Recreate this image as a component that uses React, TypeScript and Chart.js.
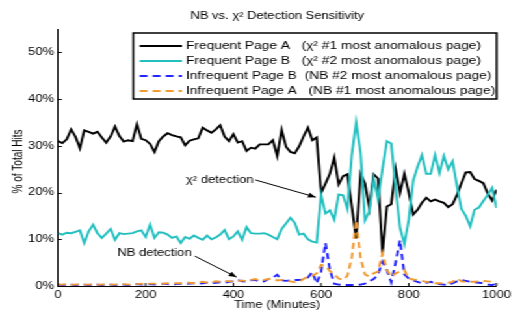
import React, { useEffect, useRef } from 'react';
import { Chart, registerables } from 'chart.js';

Chart.register(...registerables);

// ---------------- data ----------------
const times = [
  0, 10, 20, 30, 40, 50, 60, 70, 80, 90,
  100, 110, 120, 130, 140, 150, 160, 170, 180, 190,
  200, 210, 220, 230, 240, 250, 260, 270, 280, 290,
  300, 310, 320, 330, 340, 350, 360, 370, 380, 390,
  400, 410, 420, 430, 440, 450, 460, 470, 480, 490,
  500, 510, 520, 530, 540, 550, 560, 570, 580, 590,
  600, 610, 620, 630, 640, 650, 660, 670, 680, 690,
  700, 710, 720, 730, 740, 750, 760, 770, 780, 790,
  800, 810, 820, 830, 840, 850, 860, 870, 880, 890,
  900, 910, 920, 930, 940, 950, 960, 970, 980, 990,
  1000,
];

const frequentPageA = [
  31.0, 30.6, 31.4, 33.5, 31.9, 29.5, 33.3, 33.0, 32.6, 33.0,
  31.8, 30.7, 32.0, 34.1, 32.1, 30.9, 31.2, 31.0, 34.6, 31.5,
  31.2, 30.4, 28.7, 31.0, 32.0, 32.7, 32.3, 32.0, 31.8, 30.1,
  31.1, 31.4, 31.6, 33.9, 33.3, 32.8, 33.5, 34.4, 32.0, 31.0,
  32.5, 30.7, 31.0, 28.9, 29.6, 29.4, 30.3, 30.3, 30.3, 31.2,
  27.8, 33.4, 29.8, 28.7, 28.4, 29.9, 32.0, 33.9, 31.2, 31.8,
  19.9, 21.9, 24.0, 27.5, 21.7, 23.5, 23.9, 17.1, 10.2, 24.0,
  22.0, 16.7, 23.9, 23.0, 7.0, 17.0, 17.5, 25.0, 19.9, 24.0,
  20.0, 15.3, 16.3, 17.8, 18.9, 18.1, 18.5, 18.1, 17.8, 16.9,
  17.5, 19.5, 22.0, 24.3, 24.4, 22.9, 22.5, 22.0, 19.8, 18.3,
  20.6,
];

const frequentPageB = [
  11.3, 11.0, 11.4, 11.3, 11.6, 11.9, 9.2, 11.7, 13.1, 11.3,
  10.3, 11.2, 12.2, 9.9, 11.3, 11.1, 11.2, 11.3, 11.7, 11.9,
  10.5, 13.1, 10.3, 11.5, 11.4, 11.0, 10.3, 10.6, 9.2, 10.5,
  10.1, 10.8, 10.3, 9.9, 10.8, 10.0, 10.4, 11.0, 12.0, 10.0,
  10.6, 11.7, 9.9, 12.6, 11.3, 11.2, 11.2, 11.3, 11.0, 10.5,
  10.0, 12.2, 13.4, 14.6, 13.5, 11.0, 11.2, 10.0, 9.5, 9.3,
  19.6, 15.5, 16.2, 14.2, 19.6, 19.4, 16.5, 28.0, 35.0, 28.5,
  14.0, 16.0, 23.0, 18.5, 25.0, 31.0, 30.5, 21.0, 12.5, 9.0,
  14.2, 22.5, 25.5, 28.0, 24.0, 24.0, 28.0, 24.2, 27.8, 25.0,
  26.7, 21.4, 16.5, 15.0, 12.8, 16.3, 16.8, 18.2, 19.5, 21.0,
  16.7,
];

const infrequentPageB = [
  0.3, 0.2, 0.3, 0.3, 0.2, 0.3, 0.3, 0.2, 0.3, 0.3,
  0.2, 0.3, 0.3, 0.2, 0.3, 0.3, 0.2, 0.3, 0.4, 0.3,
  0.3, 0.4, 0.3, 0.4, 0.5, 0.4, 0.3, 0.4, 0.5, 0.4,
  0.5, 0.6, 0.5, 0.6, 0.7, 0.6, 0.7, 0.8, 0.7, 0.9,
  1.0, 1.3, 1.0, 0.9, 1.2, 1.3, 0.9, 1.0, 1.5, 1.8,
  2.4, 1.2, 1.1, 1.2, 1.3, 1.3, 1.4, 1.8, 3.0, 0.6,
  3.0, 9.2, 3.5, 0.5, 0.3, 0.2, 0.2, 0.2, 0.2, 0.3,
  0.5, 1.0, 1.5, 2.5, 5.2, 3.4, 0.8, 5.0, 9.8, 2.5,
  1.6, 1.2, 0.9, 0.6, 0.7, 0.9, 0.6, 0.4, 0.3, 0.2,
  0.6, 1.0, 1.3, 1.1, 0.9, 0.8, 0.7, 0.6, 0.3, 0.2,
  0.5,
];

const infrequentPageA = [
  0.3, 0.3, 0.4, 0.3, 0.3, 0.4, 0.3, 0.3, 0.4, 0.3,
  0.3, 0.4, 0.3, 0.3, 0.4, 0.4, 0.3, 0.4, 0.4, 0.5,
  0.4, 0.5, 0.5, 0.4, 0.5, 0.6, 0.5, 0.6, 0.6, 0.7,
  0.7, 0.6, 0.8, 0.9, 0.7, 0.8, 1.0, 0.9, 1.1, 1.0,
  1.0, 1.0, 1.2, 1.0, 1.3, 1.5, 1.2, 1.3, 1.5, 1.6,
  1.2, 1.3, 1.1, 1.0, 0.8, 0.9, 1.5, 2.0, 2.2, 2.7,
  4.5, 4.3, 3.2, 2.5, 1.6, 1.3, 2.2, 6.0, 14.0, 6.0,
  2.5, 2.0, 2.7, 3.1, 7.0, 3.5, 2.0, 2.7, 3.1, 3.4,
  1.6, 1.4, 1.3, 1.1, 0.9, 0.8, 0.6, 0.6, 0.6, 0.7,
  0.9, 1.6, 1.0, 0.9, 0.9, 0.9, 1.0, 1.1, 1.0, 0.9,
  0.9,
];

const seriesNames = [
  'Frequent Page A   (\u03c7\u00b2 #1 most anomalous page)',
  'Frequent Page B   (\u03c7\u00b2 #2 most anomalous page)',
  'Infrequent Page B  (NB #2 most anomalous page)',
  'Infrequent Page A   (NB #1 most anomalous page)',
];

const chartTitle = 'NB vs. \u03c7\u00b2 Detection Sensitivity';
const xTitle = 'Time (Minutes)';
const yTitle = '% of Total Hits';

const xTicks = [0, 200, 400, 600, 800, 1000];
const yTicks = [0, 10, 20, 30, 40, 50];

// annotation anchors in data units: [minutes, percent]
const annotationLabels = ['\u03c7\u00b2 detection', 'NB detection'];
const annotationTextAt = [[446, 22.7], [305, 7.1]];
const annotationFrom = [[450, 22.7], [312, 6.4]];
const annotationTo = [[588, 19.0], [407, 1.9]];

// ---------------- style ----------------
const STRETCH = 1.3;
const CW = 396;
const CH = 311;
const FONT = '"Liberation Sans", Arial, Helvetica, sans-serif';
const COLORS = ['#000000', '#22bfbf', '#2424ff', '#f09a32'];
const DASHES = [[], [], [6, 4], [6, 4]];

const decorPlugin = {
  id: 'decor',
  afterDraw(chart: any) {
    const { ctx, chartArea, scales } = chart;
    const xs = scales.x;
    const ys = scales.y;
    ctx.save();

    // inward tick marks
    ctx.strokeStyle = '#000';
    ctx.lineWidth = 1;
    yTicks.forEach((v) => {
      const py = Math.round(ys.getPixelForValue(v)) + 0.5;
      ctx.beginPath();
      ctx.moveTo(chartArea.left, py);
      ctx.lineTo(chartArea.left + 3, py);
      ctx.stroke();
    });
    xTicks.forEach((v) => {
      const px = xs.getPixelForValue(v);
      ctx.beginPath();
      ctx.moveTo(px, chartArea.bottom);
      ctx.lineTo(px, chartArea.bottom - 3);
      ctx.stroke();
    });

    // titles
    ctx.fillStyle = '#000';
    ctx.textAlign = 'center';
    ctx.textBaseline = 'middle';
    const cx = (chartArea.left + chartArea.right) / 2;
    ctx.font = `10px ${FONT}`;
    ctx.fillText(chartTitle, cx, 16.5);
    ctx.fillText(xTitle, cx, 305);
    ctx.save();
    ctx.translate(18 / STRETCH, (chartArea.top + chartArea.bottom) / 2 + 4);
    ctx.rotate(-Math.PI / 2);
    ctx.fillText(yTitle, 0, 0);
    ctx.restore();

    // annotations
    annotationLabels.forEach((label, i) => {
      const tx = xs.getPixelForValue(annotationTextAt[i][0]);
      const ty = ys.getPixelForValue(annotationTextAt[i][1]);
      ctx.textAlign = 'right';
      ctx.textBaseline = 'middle';
      ctx.fillStyle = '#000';
      ctx.font = `10px ${FONT}`;
      ctx.fillText(label, tx, ty);
      const x1 = xs.getPixelForValue(annotationFrom[i][0]);
      const y1 = ys.getPixelForValue(annotationFrom[i][1]);
      const x2 = xs.getPixelForValue(annotationTo[i][0]);
      const y2 = ys.getPixelForValue(annotationTo[i][1]);
      ctx.strokeStyle = '#000';
      ctx.lineWidth = 1;
      ctx.beginPath();
      ctx.moveTo(x1, y1);
      ctx.lineTo(x2, y2);
      ctx.stroke();
      const a = Math.atan2(y2 - y1, x2 - x1);
      const len = 6;
      const w = 2.5;
      ctx.beginPath();
      ctx.moveTo(x2, y2);
      ctx.lineTo(x2 - len * Math.cos(a) + w * Math.sin(a), y2 - len * Math.sin(a) - w * Math.cos(a));
      ctx.lineTo(x2 - len * Math.cos(a) - w * Math.sin(a), y2 - len * Math.sin(a) + w * Math.cos(a));
      ctx.closePath();
      ctx.fill();
    });

    // legend box
    const bl = 102.5;
    const br = 382;
    const bt = 33;
    const bb = 99;
    ctx.fillStyle = '#fff';
    ctx.fillRect(bl, bt, br - bl, bb - bt);
    ctx.strokeStyle = '#000';
    ctx.lineWidth = 1.5;
    ctx.strokeRect(bl, bt, br - bl, bb - bt);
    const rows = [46, 61, 76, 91];
    ctx.font = `10.6px ${FONT}`;
    ctx.textAlign = 'left';
    ctx.textBaseline = 'middle';
    seriesNames.forEach((name, i) => {
      const ry = rows[i];
      ctx.strokeStyle = COLORS[i];
      ctx.lineWidth = 1.8;
      ctx.setLineDash(DASHES[i]);
      ctx.beginPath();
      ctx.moveTo(107.5, ry);
      ctx.lineTo(140, ry);
      ctx.stroke();
      ctx.setLineDash([]);
      ctx.fillStyle = '#000';
      ctx.fillText(name, 143, ry);
    });

    ctx.restore();
  },
};

export default function App() {
  const canvasRef = useRef<HTMLCanvasElement>(null);

  useEffect(() => {
    const seriesValues = [frequentPageA, frequentPageB, infrequentPageB, infrequentPageA];
    const datasets = seriesValues.map((vals, i) => ({
      label: seriesNames[i],
      data: times.map((t, k) => ({ x: t, y: vals[k] })),
      borderColor: COLORS[i],
      backgroundColor: COLORS[i],
      borderWidth: 1.9,
      borderDash: DASHES[i],
      pointRadius: 0,
      tension: 0,
      fill: false,
      order: 3 - i,
    }));

    const chart = new Chart(canvasRef.current as HTMLCanvasElement, {
      type: 'line',
      data: { datasets },
      options: {
        animation: false,
        responsive: true,
        maintainAspectRatio: false,
        layout: { padding: { top: 29, right: 11.4, left: 0, bottom: 0 } },
        plugins: {
          legend: { display: false },
          tooltip: { enabled: false },
          title: { display: false },
        },
        scales: {
          x: {
            type: 'linear',
            min: 0,
            max: 1000,
            afterBuildTicks: (s: any) => {
              s.ticks = xTicks.map((v) => ({ value: v }));
            },
            afterFit: (s: any) => {
              s.height = 25;
            },
            ticks: {
              font: { family: FONT, size: 10 },
              color: '#000',
              padding: 3,
              maxRotation: 0,
              autoSkip: false,
              callback: (v: any) => String(v),
            },
            grid: { display: false, drawTicks: false },
            border: { display: true, color: '#000', width: 1 },
          },
          y: {
            type: 'linear',
            min: 0,
            max: 55,
            afterBuildTicks: (s: any) => {
              s.ticks = yTicks.map((v) => ({ value: v }));
            },
            afterFit: (s: any) => {
              s.width = 44.6;
            },
            ticks: {
              font: { family: FONT, size: 10 },
              color: '#000',
              padding: 3,
              callback: (v: any) => `${v}%`,
            },
            grid: { display: false, drawTicks: false },
            border: { display: true, color: '#000', width: 1 },
          },
        },
      },
      plugins: [decorPlugin],
    } as any);

    return () => chart.destroy();
  }, []);

  return (
    <div
      style={{
        position: 'absolute',
        left: 0,
        top: 0,
        width: CW,
        height: CH,
        transform: `scaleX(${STRETCH})`,
        transformOrigin: '0 0',
        background: '#fff',
      }}
    >
      <canvas ref={canvasRef} />
    </div>
  );
}
